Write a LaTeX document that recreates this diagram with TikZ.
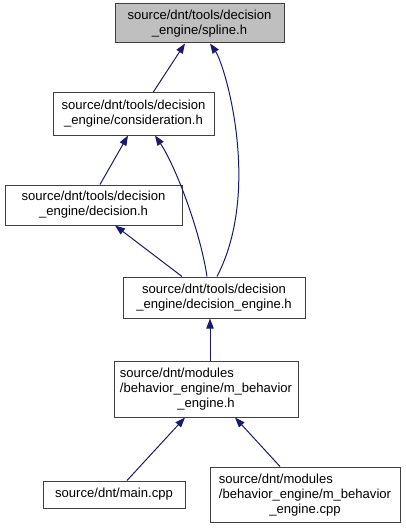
\documentclass[tikz,border=0pt]{standalone}
\usepackage{fontspec}
\setmainfont{Liberation Sans}
\usetikzlibrary{arrows.meta, positioning}
\definecolor{medianoche}{HTML}{191970}
\definecolor{grisraiz}{HTML}{BFBFBF}
\definecolor{borde}{HTML}{404040}
\tikzset{
  every picture/.style={x=0.75pt, y=-0.75pt, font=\fontsize{9.8}{11.25}\selectfont},
  caja/.style 2 args={minimum width=#1*0.75pt, minimum height=#2*0.75pt},
  archivo/.style={draw=borde, fill=white, line width=0.75pt, inner sep=0pt, align=center},
  raiz/.style={archivo, fill=grisraiz},
  flecha/.style={-{Triangle[length=7.5pt, width=5.5pt]}, medianoche, line width=0.75pt},
}
\begin{document}
\begin{tikzpicture}
  \useasboundingbox (0,0) rectangle (405,528);
  \node[raiz, caja={169}{39}] (S) at (199.5,23.5) {source/dnt/tools/decision\\\_engine/spline.h};
  \node[archivo, caja={161}{42}] (C) at (133.5,114) {source/dnt/tools/decision\\\_engine/consideration.h};
  \node[archivo, caja={177}{40}] (D) at (93.5,205) {source/dnt/tools/decision\\\_engine/decision.h};
  \node[archivo, caja={182}{41}] (DE) at (214,297.5) {source/dnt/tools/decision\\\_engine/decision\_engine.h};
  \node[archivo, caja={184}{56}] (MB) at (206,389) {\begin{tabular}[b]{@{}l@{}}source/dnt/modules\\/behavior\_engine/m\_behavior\end{tabular}\\\_engine.h};
  \node[archivo, caja={142}{27}] (M) at (114,494.5) {source/dnt/main.cpp};
  \node[archivo, caja={190}{55}] (MC) at (305,494.5) {\begin{tabular}[b]{@{}l@{}}source/dnt/modules\\/behavior\_engine/m\_behavior\end{tabular}\\\_engine.cpp};
  \draw[flecha] ([shift={(19.5,0)}]C.north) -- ([shift={(-14.5,0)}]S.south);
  \draw[flecha] ([shift={(3,0)}]DE.north) .. controls (262,190) and (225,65) .. ([shift={(10.5,0)}]S.south);
  \draw[flecha] ([shift={(-7,0)}]DE.north) .. controls (200,230) and (175,165) .. ([shift={(21.5,0)}]C.south);
  \draw[flecha] ([shift={(6.5,0)}]D.north) -- ([shift={(-5.5,0)}]C.south);
  \draw[flecha] ([shift={(-32,0)}]DE.north) -- ([shift={(21.5,0)}]D.south);
  \draw[flecha] ([shift={(4,0)}]MB.north) -- ([shift={(-4,0)}]DE.south);
  \draw[flecha] ([shift={(13,0)}]M.north) -- ([shift={(-21,0)}]MB.south);
  \draw[flecha] ([shift={(-25,0)}]MC.north) -- ([shift={(29,0)}]MB.south);
\end{tikzpicture}
\end{document}
